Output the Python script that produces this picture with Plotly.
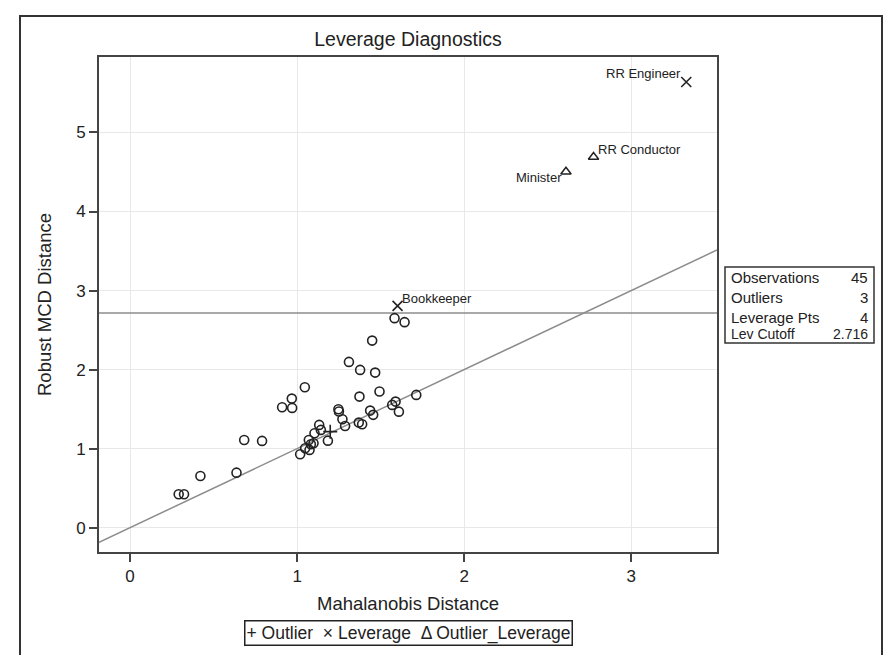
import plotly.graph_objects as go

# Regular observations (Mahalanobis distance, robust MCD distance)
normal_x = [1.583, 1.643, 1.449, 1.310, 1.377, 1.467, 1.046, 0.968, 0.910, 0.970,
            1.373, 1.493, 1.713, 1.589, 1.569, 1.609, 1.247, 1.250, 1.437, 1.455,
            1.271, 1.287, 1.369, 1.389, 1.132, 1.142, 1.104, 1.184, 1.070, 1.098,
            1.082, 1.048, 1.074, 1.018, 0.683, 0.790, 0.291, 0.323, 0.421, 0.637]
normal_y = [2.651, 2.600, 2.367, 2.097, 1.996, 1.962, 1.777, 1.633, 1.524, 1.515,
            1.658, 1.722, 1.680, 1.595, 1.553, 1.468, 1.499, 1.470, 1.481, 1.427,
            1.372, 1.287, 1.329, 1.309, 1.300, 1.237, 1.195, 1.101, 1.110, 1.068,
            1.055, 1.005, 0.984, 0.929, 1.110, 1.098, 0.423, 0.423, 0.654, 0.696]

# Flagged observations
outlier_x = [1.198]
outlier_y = [1.215]

leverage_x = [1.601, 3.329]
leverage_y = [2.806, 5.638]
leverage_names = ["Bookkeeper", "RR Engineer"]

outlev_x = [2.609, 2.774]
outlev_y = [4.503, 4.689]
outlev_names = ["Minister", "RR Conductor"]

# Legend entries (glyph, label)
legend_items = [("+", "Outlier"), ("\u00d7", "Leverage"), ("\u0394", "Outlier_Leverage")]

# Summary statistics
stat_labels = ["Observations", "Outliers", "Leverage Pts", "Lev Cutoff"]
stat_values = ["45", "3", "4", "2.716"]
lev_cutoff = 2.716

x_range = [-0.186, 3.513]
y_range = [-0.308, 5.955]

# plot-area geometry in pixels (for paper-coordinate decorations)
W, H = 893, 655
L, R, T, B = 99, 717, 57, 552


def px(p):
    return (p - L) / (R - L)


def py(p):
    return (B - p) / (B - T)


FONT = "Liberation Sans, Arial, sans-serif"
INK = "#222222"

fig = go.Figure()

# y = x reference line
fig.add_trace(go.Scatter(
    x=x_range, y=x_range, mode="lines",
    line=dict(color="#8c8c8c", width=1.5), showlegend=False, hoverinfo="skip"))

# horizontal cutoff line
fig.add_trace(go.Scatter(
    x=x_range, y=[lev_cutoff, lev_cutoff], mode="lines",
    line=dict(color="#8c8c8c", width=1.5), showlegend=False, hoverinfo="skip"))

fig.add_trace(go.Scatter(
    x=normal_x, y=normal_y, mode="markers", showlegend=False,
    marker=dict(symbol="circle-open", size=9, color=INK, line=dict(width=1.6))))

fig.add_trace(go.Scatter(
    x=outlier_x, y=outlier_y, mode="markers", name="Outlier", showlegend=False,
    marker=dict(symbol="cross-thin-open", size=10, color=INK, line=dict(width=1.6))))

fig.add_trace(go.Scatter(
    x=leverage_x, y=leverage_y, mode="markers", name="Leverage", showlegend=False,
    marker=dict(symbol="x-thin-open", size=10, color=INK, line=dict(width=1.6))))

fig.add_trace(go.Scatter(
    x=outlev_x, y=outlev_y, mode="markers", name="Outlier_Leverage", showlegend=False,
    marker=dict(symbol="triangle-up-open", size=9, color=INK, line=dict(width=1.5))))

annotations = []

# point labels
label_style = {
    "Bookkeeper": dict(xanchor="left", yanchor="bottom", xshift=2, yshift=-2),
    "RR Engineer": dict(xanchor="right", yanchor="bottom", xshift=-3, yshift=-1),
    "RR Conductor": dict(xanchor="left", yanchor="bottom", xshift=2, yshift=-2),
    "Minister": dict(xanchor="right", yanchor="middle", xshift=-2, yshift=-6),
}
for xs, ys, names in [(leverage_x, leverage_y, leverage_names),
                      (outlev_x, outlev_y, outlev_names)]:
    for xv, yv, nm in zip(xs, ys, names):
        annotations.append(dict(
            x=xv, y=yv, xref="x", yref="y", text=nm, showarrow=False,
            font=dict(family=FONT, size=13, color=INK), **label_style[nm]))

# statistics table
row_y = [277, 297, 317, 334]
for i, (lab, val) in enumerate(zip(stat_labels, stat_values)):
    fs = 15 if i < 3 else 14
    annotations.append(dict(
        x=px(729), y=py(row_y[i]), xref="paper", yref="paper", text=lab,
        showarrow=False, xanchor="left", yanchor="middle",
        font=dict(family=FONT, size=fs, color=INK)))
    annotations.append(dict(
        x=px(870), y=py(row_y[i]), xref="paper", yref="paper", text=val,
        showarrow=False, xanchor="right", yanchor="middle",
        font=dict(family=FONT, size=fs, color=INK)))

# legend box below the x-axis title
legend_text = "\u00a0\u00a0".join(f"{g} {lab}" for g, lab in legend_items)
annotations.append(dict(
    x=px((L + R) / 2), y=py(633), xref="paper", yref="paper",
    text=legend_text, showarrow=False, xanchor="center", yanchor="middle",
    font=dict(family=FONT, size=17.5, color=INK),
    bordercolor="#222222", borderwidth=1.5, borderpad=1, bgcolor="white"))

shapes = [
    # statistics box
    dict(type="rect", xref="paper", yref="paper",
         x0=px(725), x1=px(874), y0=py(343), y1=py(267),
         line=dict(color="#333333", width=1.5)),
    # outer frame
    dict(type="rect", xref="paper", yref="paper",
         x0=px(20), x1=px(882), y0=py(670), y1=py(16),
         line=dict(color="#333333", width=2)),
]

axis_common = dict(
    showline=True, mirror=True, linecolor="#444444", linewidth=2,
    ticks="outside", ticklen=8, tickwidth=1.5, tickcolor="#444444",
    showgrid=True, gridcolor="#e8e8e8", gridwidth=1, zeroline=False,
    tickfont=dict(family=FONT, size=17, color=INK),
)

fig.update_layout(
    width=W, height=H,
    margin=dict(l=L, r=W - R, t=T, b=H - B),
    paper_bgcolor="white", plot_bgcolor="white",
    showlegend=False,
    title=dict(text="Leverage Diagnostics", x=px((L + R) / 2), xref="paper",
               xanchor="center", y=1 - 39 / H, yanchor="middle",
               font=dict(family=FONT, size=19.5, color=INK)),
    xaxis=dict(range=x_range, tickvals=[0, 1, 2, 3], ticklabelstandoff=0,
               title=dict(text="Mahalanobis Distance", standoff=12,
                          font=dict(family=FONT, size=18.5, color=INK)),
               **axis_common),
    yaxis=dict(range=y_range, tickvals=[0, 1, 2, 3, 4, 5],
               title=dict(text="Robust MCD Distance", standoff=20,
                          font=dict(family=FONT, size=18.5, color=INK)),
               **axis_common),
    annotations=annotations,
    shapes=shapes,
)

fig.write_html("out.html")
